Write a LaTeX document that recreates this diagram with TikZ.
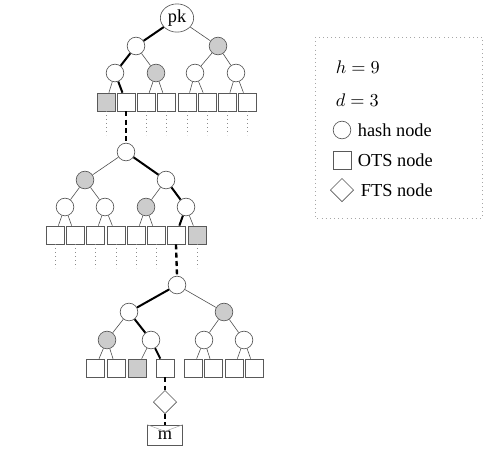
\documentclass[tikz,border=0pt]{standalone}
\usepackage{fontspec}
\setmainfont{Liberation Serif}
\usetikzlibrary{shapes.geometric, calc}

\begin{document}
\begin{tikzpicture}[
    x=0.6pt, y=-0.6pt,
    font=\fontsize{11}{13}\selectfont,
    hash/.style={circle, draw=black!65, line width=0.4pt, fill=white,
                 minimum size=10.6pt, inner sep=0pt},
    ots/.style={rectangle, draw=black!65, line width=0.4pt, fill=white,
                minimum size=10.8pt, inner sep=0pt},
    fts/.style={diamond, draw=black!65, line width=0.4pt, fill=white,
                minimum size=14pt, inner sep=0pt},
    auth/.style={fill=black!20},
    edge/.style={draw=black!70, line width=0.35pt},
    path/.style={draw=black, line width=1.2pt},
    link/.style={draw=black, line width=1.4pt, dash pattern=on 3pt off 2pt},
    open/.style={draw=black!45, line width=0.4pt, dotted}
  ]
  \useasboundingbox (0,0) rectangle (500,462);

  % Top tree
  \node[ellipse, draw=black!65, line width=0.4pt, minimum width=20pt,
        minimum height=16pt, inner sep=1pt] (pk) at (177,18) {pk};
  \node[hash] (ta) at (136,46) {};
  \node[hash, auth] (tb) at (218,46) {};
  \node[hash] (taa) at (115,73) {};
  \node[hash, auth] (tab) at (156,73) {};
  \node[hash] (tba) at (195,73) {};
  \node[hash] (tbb) at (236,73) {};
  \foreach \x [count=\i] in {106,126,146,166,187,207,227,247}
    \node[ots] (tl\i) at (\x,102) {};
  \node[ots, auth] at (tl1) {};

  \draw[edge] (ta) -- (tab);
  \draw[edge] (pk) -- (tb);
  \draw[edge] (tb) -- (tba);  \draw[edge] (tb) -- (tbb);
  \draw[edge] (taa) -- (tl1); \draw[edge] (tab) -- (tl3);
  \draw[edge] (tab) -- (tl4); \draw[edge] (tba) -- (tl5);
  \draw[edge] (tba) -- (tl6); \draw[edge] (tbb) -- (tl7);
  \draw[edge] (tbb) -- (tl8);
  \draw[path] (pk) -- (ta) -- (taa) -- (tl2);
  \foreach \i in {1,3,4,5,6,7,8}
    \draw[open] (tl\i.south) -- ++(0,24);

  % Middle tree
  \node[hash] (mr) at (126,152) {};
  \node[hash, auth] (ma) at (85,180) {};
  \node[hash] (mb) at (166,180) {};
  \node[hash] (maa) at (65,207) {};
  \node[hash] (mab) at (105,207) {};
  \node[hash, auth] (mba) at (146,207) {};
  \node[hash] (mbb) at (186,207) {};
  \foreach \x [count=\i] in {55,75,95,116,136,156,176,197}
    \node[ots] (ml\i) at (\x,235) {};
  \node[ots, auth] at (ml8) {};

  \draw[link] (tl2.south) -- (mr.north);
  \draw[edge] (mr) -- (ma);
  \draw[edge] (ma) -- (maa);  \draw[edge] (ma) -- (mab);
  \draw[edge] (mb) -- (mba);
  \draw[edge] (maa) -- (ml1); \draw[edge] (maa) -- (ml2);
  \draw[edge] (mab) -- (ml3); \draw[edge] (mab) -- (ml4);
  \draw[edge] (mba) -- (ml5); \draw[edge] (mba) -- (ml6);
  \draw[edge] (mbb) -- (ml8);
  \draw[path] (mr) -- (mb) -- (mbb) -- (ml7);
  \foreach \i in {1,2,3,4,5,6,8}
    \draw[open] (ml\i.south) -- ++(0,24);

  % Bottom tree
  \node[hash] (br) at (177,285) {};
  \node[hash] (ba) at (129,312) {};
  \node[hash, auth] (bb) at (224,312) {};
  \node[hash, auth] (baa) at (107,340) {};
  \node[hash] (bab) at (151,340) {};
  \node[hash] (bba) at (204,340) {};
  \node[hash] (bbb) at (244,340) {};
  \foreach \x [count=\i] in {95,116,137,165,193,213,234,254}
    \node[ots] (bl\i) at (\x,368) {};
  \node[ots, auth] at (bl3) {};

  \draw[link] (ml7.south) -- (br.north);
  \draw[edge] (br) -- (bb);
  \draw[edge] (bb) -- (bba);  \draw[edge] (bb) -- (bbb);
  \draw[edge] (ba) -- (baa);
  \draw[edge] (baa) -- (bl1); \draw[edge] (baa) -- (bl2);
  \draw[edge] (bab) -- (bl3);
  \draw[edge] (bba) -- (bl5); \draw[edge] (bba) -- (bl6);
  \draw[edge] (bbb) -- (bl7); \draw[edge] (bbb) -- (bl8);
  \draw[path] (br) -- (ba) -- (bab) -- (bl4);

  % FTS and message
  \node[fts] (fts) at (165,402) {};
  \node[rectangle, draw=black!65, line width=0.4pt, minimum width=21pt,
        minimum height=12pt, inner sep=0pt] (msg) at (165,435) {m};
  \draw[black!35, line width=0.3pt]
    (msg.north west) -- ([yshift=-4pt]msg.north) -- (msg.north east);
  \draw[link] (bl4.south) -- (fts.north);
  \draw[link] (fts.south) -- (msg.north);

  % Legend
  \draw[black!35, line width=0.5pt, dotted] (315,37) rectangle (482,218);
  \node[anchor=west] (hval) at (330,67) {$h = 9$};
  \node[anchor=west] (dval) at (330,100) {$d = 3$};
  \node[hash] (lhash) at (342,130) {};
  \node[anchor=west] at (352,130) {hash node};
  \node[ots] (lots) at (342,160) {};
  \node[anchor=west] at (352,160) {OTS node};
  \node[fts] (lfts) at (342,190) {};
  \node[anchor=west] at (355,190) {FTS node};

\end{tikzpicture}
\end{document}
